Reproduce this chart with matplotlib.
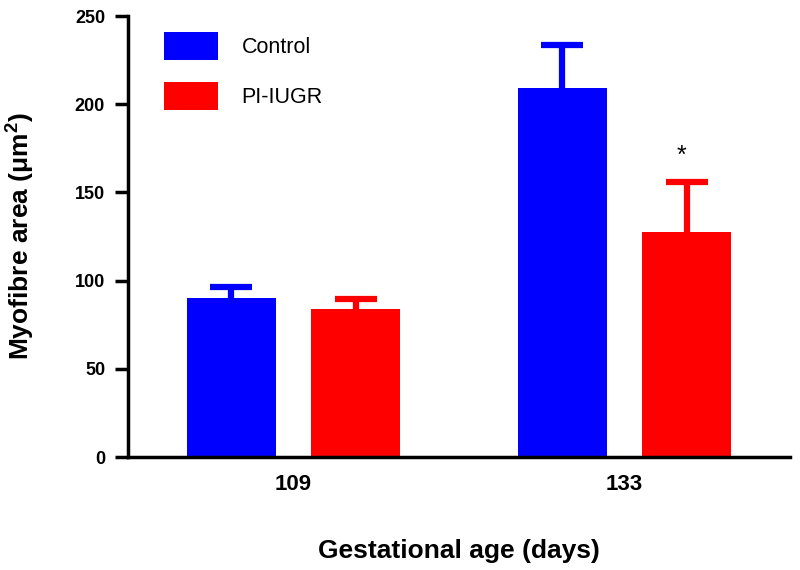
import matplotlib.pyplot as plt
import matplotlib
import numpy as np

matplotlib.rcParams['font.family'] = ['Liberation Sans', 'DejaVu Sans']
matplotlib.rcParams['mathtext.fontset'] = 'custom'
matplotlib.rcParams['mathtext.bf'] = 'Liberation Sans:bold'
matplotlib.rcParams['mathtext.rm'] = 'Liberation Sans:bold'
matplotlib.rcParams['mathtext.default'] = 'bf'

ages = ['109', '133']
control = [90.3, 209.4]
control_err = [5.9, 24.0]
pi_iugr = [83.7, 127.4]
pi_iugr_err = [5.7, 28.7]
series_names = ['Control', 'PI-IUGR']

fig = plt.figure(figsize=(8, 5.7), dpi=100)
ax = fig.add_axes([0.16, 0.1982, 0.8275, 0.7737])

x = np.arange(len(ages))
w = 0.27
off = 0.1875
colors = ['#0000ff', '#ff0000']

for vals, errs, dx, c, name in zip([control, pi_iugr], [control_err, pi_iugr_err],
                                   [-off, off], colors, series_names):
    ax.bar(x + dx, vals, width=w, color=c, label=name, zorder=2)
    eb = ax.errorbar(x + dx, vals, yerr=[np.zeros(len(errs)), errs], fmt='none',
                     ecolor=c, elinewidth=4.5, capsize=14.8, capthick=4.5, zorder=1)
    # only the upper cap is shown
    eb[1][0].set_visible(False)

# significance mark
ax.text(x[1] + off - 0.015, 171, '*', ha='center', va='center', fontsize=18)

ax.set_xlim(-0.5, 1.5)
ax.set_ylim(0, 250)
ax.set_yticks([0, 50, 100, 150, 200, 250])
ax.set_xticks(x)
ax.set_xticklabels(ages)

for s in ['top', 'right']:
    ax.spines[s].set_visible(False)
for s in ['left', 'bottom']:
    ax.spines[s].set_linewidth(2.5)

ax.tick_params(axis='y', length=9.5, width=2.5, pad=7, labelsize=13)
ax.tick_params(axis='x', length=0, pad=12, labelsize=16)
for lab in ax.get_xticklabels() + ax.get_yticklabels():
    lab.set_fontweight('bold')

ax.set_ylabel('Myofibre area (μm$^2$)', fontsize=19, fontweight='bold')
ax.yaxis.set_label_coords(-0.137, 0.5)
ax.set_xlabel('Gestational age (days)', fontsize=19, fontweight='bold')
ax.xaxis.set_label_coords(0.5, -0.187)

ax.legend(loc='upper left', bbox_to_anchor=(164 / 800, 1 - 32 / 570),
          bbox_transform=fig.transFigure, frameon=False, fontsize=15.5,
          handlelength=2.5, handleheight=1.65, handletextpad=1.1,
          labelspacing=1.0, borderpad=0, borderaxespad=0)

plt.savefig('out.png', dpi=100)
